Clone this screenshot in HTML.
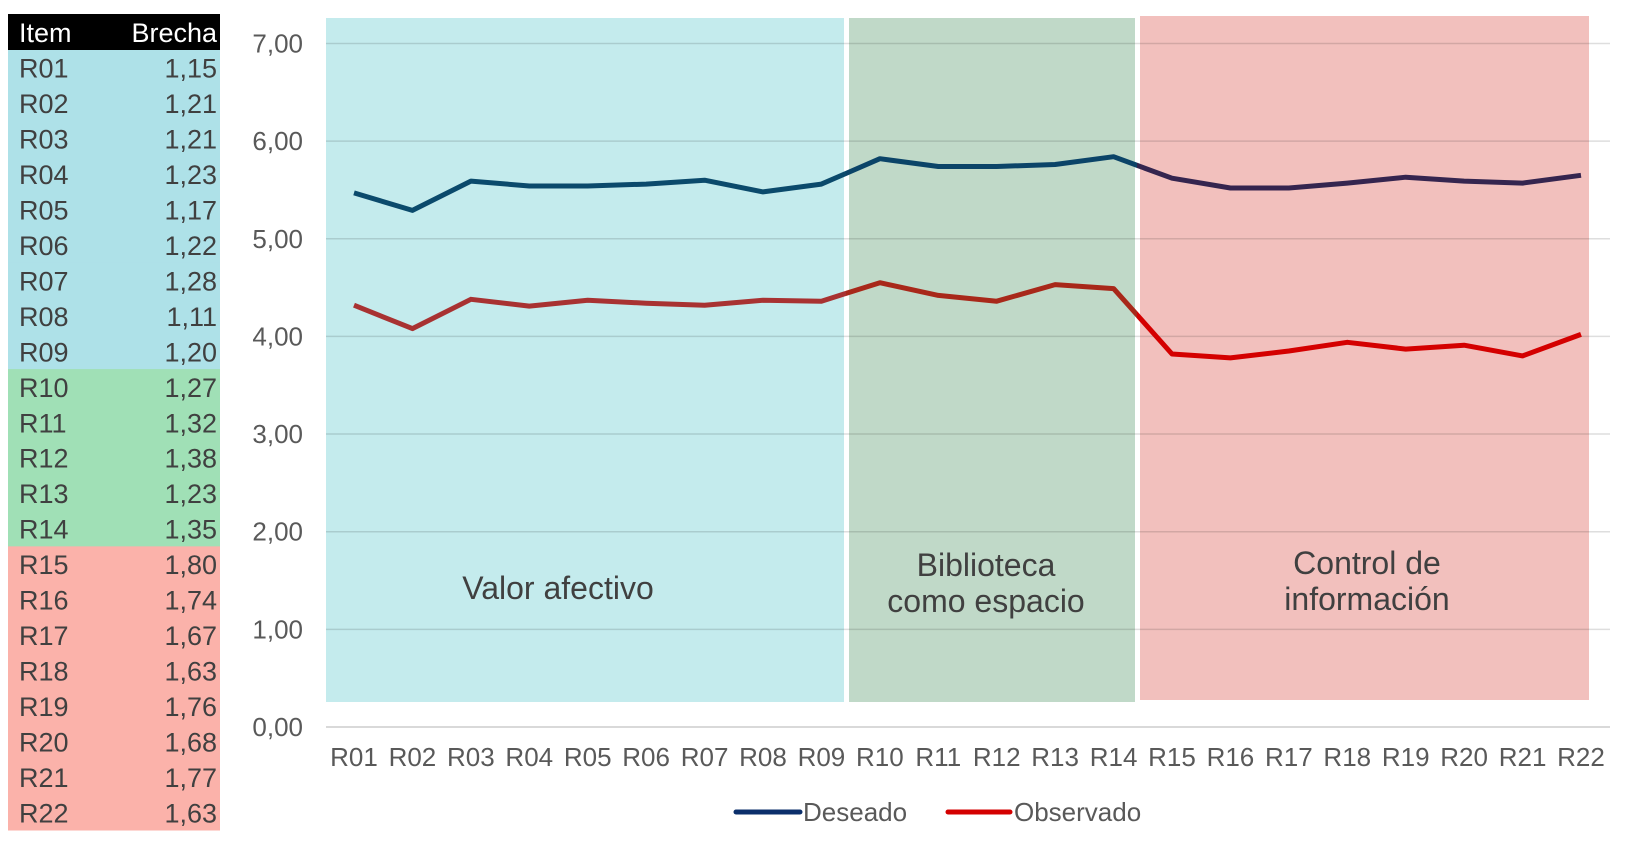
<!DOCTYPE html>
<html><head><meta charset="utf-8"><style>
html,body{margin:0;padding:0;background:#fff;width:1630px;height:850px;overflow:hidden}
svg{display:block;font-family:"Liberation Sans",Arial,sans-serif}
</style></head><body>
<svg id="chart" width="1630" height="850" viewBox="0 0 1630 850" xmlns="http://www.w3.org/2000/svg">
<defs>
<clipPath id="c1"><rect x="0" y="0" width="846" height="850"/></clipPath>
<clipPath id="c2"><rect x="846" y="0" width="291" height="850"/></clipPath>
<clipPath id="c3"><rect x="1137" y="0" width="493" height="850"/></clipPath>
</defs>
<g id="table"></g>
<g id="bands"></g>
<g id="grid"></g>
<g id="yticks"></g>
<g id="xticks"></g>
<g id="lines"></g>
<g id="bandlabels" font-size="32" fill="#404040" text-anchor="middle">
<text x="558" y="599">Valor afectivo</text>
<text x="986" y="576">Biblioteca</text>
<text x="986" y="612">como espacio</text>
<text x="1367" y="574">Control de</text>
<text x="1367" y="610">información</text>
</g>
<g font-size="26" fill="#595959">
<line x1="736" y1="812" x2="800" y2="812" stroke="#0b2f6b" stroke-width="5" stroke-linecap="round"/>
<text x="803" y="821">Deseado</text>
<line x1="948" y1="812" x2="1010" y2="812" stroke="#d40000" stroke-width="5" stroke-linecap="round"/>
<text x="1014" y="821">Observado</text>
</g>
</svg>
<script>
const items = ["R01","R02","R03","R04","R05","R06","R07","R08","R09","R10","R11","R12","R13","R14","R15","R16","R17","R18","R19","R20","R21","R22"];
const deseado = [5.47,5.29,5.59,5.54,5.54,5.56,5.60,5.48,5.56,5.82,5.74,5.74,5.76,5.84,5.62,5.52,5.52,5.57,5.63,5.59,5.57,5.65];
const brecha = [1.15,1.21,1.21,1.23,1.17,1.22,1.28,1.11,1.20,1.27,1.32,1.38,1.23,1.35,1.80,1.74,1.67,1.63,1.76,1.68,1.77,1.63];
const brechaLabels = ["1,15","1,21","1,21","1,23","1,17","1,22","1,28","1,11","1,20","1,27","1,32","1,38","1,23","1,35","1,80","1,74","1,67","1,63","1,76","1,68","1,77","1,63"];
const observado = [4.32,4.08,4.38,4.31,4.37,4.34,4.32,4.37,4.36,4.55,4.42,4.36,4.53,4.49,3.82,3.78,3.85,3.94,3.87,3.91,3.80,4.02];
const yTicks = [0,1,2,3,4,5,6,7];
const yTickLabels = ["0,00","1,00","2,00","3,00","4,00","5,00","6,00","7,00"];
const groupOf = [0,0,0,0,0,0,0,0,0,1,1,1,1,1,2,2,2,2,2,2,2,2];

const NS="http://www.w3.org/2000/svg";
function mk(tag,attrs,parent){const e=document.createElementNS(NS,tag);for(const k in attrs)e.setAttribute(k,attrs[k]);parent.appendChild(e);return e;}
const X0=354, DX=(1581-354)/21;
function xs(i){return X0+i*DX;}
function ys(v){return 727-v*97.65;}

const tbl=document.getElementById('table');
const hdr=mk('rect',{x:8,y:14,width:212,height:36,fill:'#000'},tbl);


const h1=mk('text',{x:19,y:42,'font-size':27,fill:'#fff'},tbl);h1.textContent='Item';


const h2=mk('text',{x:217,y:42,'font-size':27,fill:'#fff','text-anchor':'end'},tbl);h2.textContent='Brecha';


const rowFill=['#aee1e8','#a0e0b6','#fbb2aa'];
const RH=(830-50)/22;
items.forEach((it,i)=>{
  const y=50+i*RH;
  const r=mk('rect',{x:8,y:y,width:212,height:RH+0.5,fill:rowFill[groupOf[i]]},tbl);
  
  
  const t1=mk('text',{x:19,y:y+RH/2+10,'font-size':27,fill:'#404040'},tbl);t1.textContent=it;
  
  
  const t2=mk('text',{x:217,y:y+RH/2+10,'font-size':27,fill:'#404040','text-anchor':'end'},tbl);t2.textContent=brechaLabels[i];
  
  
});

const bands=document.getElementById('bands');
[[326,18,518,684,'#c4ebed'],[849,18,286,684,'#c0d9c8'],[1140,16,449,684,'#f2c0bd']].forEach((b,i)=>{
  const r=mk('rect',{x:b[0],y:b[1],width:b[2],height:b[3],fill:b[4]},bands);
  
  
});

const grid=document.getElementById('grid'), yt=document.getElementById('yticks');
yTicks.forEach((v,i)=>{
  const l=mk('line',{x1:326,x2:1610,y1:ys(v),y2:ys(v),stroke:v===0?'#d9d9d9':'rgba(0,0,0,0.13)','stroke-width':v===0?2:1.5},grid);
  
  
  const t=mk('text',{x:303,y:ys(v)+9,'font-size':26,fill:'#595959','text-anchor':'end'},yt);t.textContent=yTickLabels[i];
  
  
});

const xt=document.getElementById('xticks');
items.forEach((it,i)=>{
  const t=mk('text',{x:xs(i),y:766,'font-size':26,fill:'#595959','text-anchor':'middle'},xt);t.textContent=it;
  
  
});

const lines=document.getElementById('lines');
function pts(arr){return arr.map((v,i)=>xs(i).toFixed(1)+','+ys(v).toFixed(1)).join(' ');}
const dCols=['#0b4a6c','#0b4468','#35254f'], oCols=['#a83232','#a8281a','#d40000'];
['c1','c2','c3'].forEach((c,k)=>{
  const pd=mk('polyline',{points:pts(deseado),fill:'none',stroke:dCols[k],'stroke-width':5,'stroke-linejoin':'round','clip-path':'url(#'+c+')'},lines);
  
  
  const po=mk('polyline',{points:pts(observado),fill:'none',stroke:oCols[k],'stroke-width':5,'stroke-linejoin':'round','clip-path':'url(#'+c+')'},lines);
  
  
});
</script>
</body></html>
